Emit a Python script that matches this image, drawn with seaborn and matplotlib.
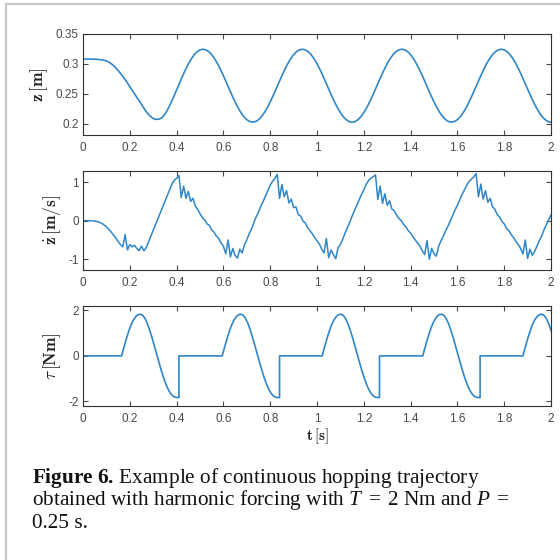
"""Continuous hopping trajectory: z, z-dot and torque vs time."""

import matplotlib

matplotlib.use("Agg")
import matplotlib.pyplot as plt
import numpy as np
import seaborn as sns
from matplotlib.lines import Line2D

sns.set_theme(style="ticks")
plt.rcParams["font.family"] = ["Liberation Sans", "DejaVu Sans"]
plt.rcParams["mathtext.fontset"] = "cm"
plt.rcParams["mathtext.rm"] = "Liberation Serif"
plt.rcParams["mathtext.it"] = "Liberation Serif:italic"
plt.rcParams["mathtext.bf"] = "Liberation Serif:bold"

LINE_COLOR = "#2f86c8"
TICK_COLOR = "#4a4a4a"

X_TICKS = [0, 0.2, 0.4, 0.6, 0.8, 1.0, 1.2, 1.4, 1.6, 1.8, 2.0]
X_TICK_LABELS = ["0", "0.2", "0.4", "0.6", "0.8", "1", "1.2", "1.4", "1.6", "1.8", "2"]

# z [m], sampled every 0.0125 s from 0 to 2 s
Z_VALUES = [
    0.308, 0.308, 0.308, 0.308, 0.3078, 0.3075, 0.307, 0.3062, 0.305, 0.3025,
    0.299, 0.2945, 0.289, 0.283, 0.2765, 0.2695, 0.262, 0.2545, 0.247, 0.2395,
    0.232, 0.2245, 0.2175, 0.2125, 0.2085, 0.2072, 0.2075, 0.2100, 0.2160, 0.2240,
    0.2340, 0.2450, 0.2565, 0.2680, 0.2792, 0.2900, 0.2998, 0.3082, 0.3152, 0.3203,
    0.3234, 0.3245, 0.3235, 0.3204, 0.3154, 0.3086, 0.3003, 0.2907, 0.2802, 0.2691,
    0.2579, 0.2468, 0.2363, 0.2267, 0.2184, 0.2116, 0.2066, 0.2035, 0.2025, 0.2035,
    0.2066, 0.2116, 0.2184, 0.2267, 0.2363, 0.2468, 0.2579, 0.2691, 0.2802, 0.2907,
    0.3003, 0.3086, 0.3154, 0.3204, 0.3235, 0.3245, 0.3235, 0.3204, 0.3154, 0.3086,
    0.3003, 0.2907, 0.2802, 0.2691, 0.2579, 0.2468, 0.2363, 0.2267, 0.2184, 0.2116,
    0.2066, 0.2035, 0.2025, 0.2035, 0.2066, 0.2116, 0.2184, 0.2267, 0.2363, 0.2468,
    0.2579, 0.2691, 0.2802, 0.2907, 0.3003, 0.3086, 0.3154, 0.3204, 0.3235, 0.3245,
    0.3235, 0.3204, 0.3154, 0.3086, 0.3003, 0.2907, 0.2802, 0.2691, 0.2579, 0.2468,
    0.2363, 0.2267, 0.2184, 0.2116, 0.2066, 0.2035, 0.2025, 0.2035, 0.2066, 0.2116,
    0.2184, 0.2267, 0.2363, 0.2468, 0.2579, 0.2691, 0.2802, 0.2907, 0.3003, 0.3086,
    0.3154, 0.3204, 0.3235, 0.3245, 0.3235, 0.3204, 0.3154, 0.3086, 0.3003, 0.2907,
    0.2802, 0.2691, 0.2579, 0.2468, 0.2363, 0.2267, 0.2184, 0.2116, 0.2066, 0.2035,
    0.2025,
]

# z-dot [m/s], sampled every 0.01 s from 0 to 2 s
ZDOT_VALUES = [
    0, 0, 0, 0, -0.005, -0.01, -0.02, -0.04, -0.07, -0.11,
    -0.16, -0.22, -0.29, -0.37, -0.45, -0.54, -0.62, -0.68, -0.36, -0.76,
    -0.62, -0.68, -0.64, -0.72, -0.78, -0.66, -0.78, -0.70, -0.55, -0.40,
    -0.25, -0.10, 0.05, 0.20, 0.35, 0.50, 0.65, 0.80, 0.95, 1.05,
    1.10, 1.17, 0.60, 0.90, 0.58, 0.76, 0.50, 0.58, 0.38, 0.30,
    0.18, 0.08, 0.02, -0.08, -0.12, -0.24, -0.30, -0.40, -0.46, -0.58,
    -0.66, -0.86, -0.50, -0.94, -0.72, -0.90, -0.97, -0.74, -0.84, -0.62,
    -0.50, -0.34, -0.22, -0.06, 0.10, 0.22, 0.38, 0.50, 0.64, 0.78,
    0.92, 1.02, 1.10, 1.20, 0.58, 0.94, 0.62, 0.78, 0.46, 0.56,
    0.34, 0.36, 0.16, 0.12, -0.01, -0.06, -0.18, -0.26, -0.34, -0.44,
    -0.52, -0.60, -0.74, -0.84, -0.46, -0.96, -0.76, -0.88, -0.99, -0.70,
    -0.62, -0.48, -0.32, -0.18, -0.04, 0.12, 0.26, 0.40, 0.54, 0.68,
    0.80, 0.94, 1.04, 1.10, 1.14, 1.19, 0.55, 0.90, 0.45, 0.70,
    0.40, 0.52, 0.30, 0.26, 0.14, 0.06, 0.00, -0.10, -0.16, -0.26,
    -0.32, -0.42, -0.50, -0.58, -0.66, -0.78, -0.88, -0.52, -1.00, -0.72,
    -0.86, -0.92, -0.66, -0.52, -0.40, -0.26, -0.14, 0.00, 0.14, 0.28,
    0.40, 0.54, 0.68, 0.80, 0.92, 1.02, 1.08, 1.14, 1.22, 0.62,
    0.95, 0.56, 0.78, 0.48, 0.58, 0.36, 0.30, 0.16, 0.10, -0.02,
    -0.08, -0.20, -0.26, -0.36, -0.44, -0.54, -0.62, -0.72, -0.86, -0.50,
    -0.98, -0.74, -0.90, -0.80, -0.66, -0.52, -0.40, -0.24, -0.10, 0.02,
    0.15,
]

# torque pushes: start time of each push and the push shape every 0.01 s
TAU_ONSETS = [0.165, 0.595, 1.022, 1.452, 1.880]
TAU_PUSH = [
    0.0, 0.38, 0.74, 1.07, 1.35, 1.57, 1.72, 1.81, 1.83, 1.78,
    1.64, 1.42, 1.13, 0.80, 0.44, 0.07, -0.30, -0.65, -0.98, -1.26,
    -1.49, -1.66, -1.77, -1.82, -1.83,
]
TAU_CUTOFF = 0.245  # torque drops back to zero after this long


def build_torque():
    t, tau = [0.0], [0.0]
    for onset in TAU_ONSETS:
        for k, v in enumerate(TAU_PUSH):
            t.append(onset + 0.01 * k)
            tau.append(v)
        t += [onset + TAU_CUTOFF, onset + TAU_CUTOFF]
        tau += [TAU_PUSH[-1], 0.0]
    return np.array(t), np.array(tau)


def style_axis(ax, ylim, yticks, yticklabels, ylabel, label_x):
    ax.set_xlim(0, 2)
    ax.set_ylim(*ylim)
    ax.set_xticks(X_TICKS)
    ax.set_xticklabels(X_TICK_LABELS)
    ax.set_yticks(yticks)
    ax.set_yticklabels(yticklabels)
    ax.tick_params(direction="in", top=True, right=True, length=3.5, width=0.8,
                   labelsize=8.5, colors=TICK_COLOR)
    ax.tick_params(axis="x", pad=5)
    ax.tick_params(axis="y", pad=3)
    for spine in ax.spines.values():
        spine.set_visible(True)
        spine.set_color("#333333")
        spine.set_linewidth(0.8)
    ax.set_ylabel(ylabel, fontsize=12.5, color="#222222", math_fontfamily="cm")
    ax.yaxis.set_label_coords(label_x, 0.5)
    ax.set_xlabel("")


fig = plt.figure(figsize=(5.6, 5.6), dpi=100)
fig.patch.set_facecolor("white")

left, width = 83 / 560, 468 / 560
ax1 = fig.add_axes([left, 1 - 135 / 560, width, 101 / 560])
ax2 = fig.add_axes([left, 1 - 270 / 560, width, 99 / 560])
ax3 = fig.add_axes([left, 1 - 406 / 560, width, 100 / 560])

t_z = np.linspace(0, 2, len(Z_VALUES))
t_zdot = np.linspace(0, 2, len(ZDOT_VALUES))
t_tau, tau = build_torque()

sns.lineplot(x=t_z, y=Z_VALUES, ax=ax1, color=LINE_COLOR, linewidth=1.2,
             estimator=None, sort=False)
sns.lineplot(x=t_zdot, y=ZDOT_VALUES, ax=ax2, color=LINE_COLOR, linewidth=1.1,
             estimator=None, sort=False)
sns.lineplot(x=t_tau, y=tau, ax=ax3, color=LINE_COLOR, linewidth=1.2,
             estimator=None, sort=False)

style_axis(ax1, (0.181, 0.35), [0.2, 0.25, 0.3, 0.35], ["0.2", "0.25", "0.3", "0.35"],
           r"$\mathbf{z}\,[\mathbf{m}]$", -0.07)
style_axis(ax2, (-1.28, 1.29), [-1, 0, 1], ["-1", "0", "1"],
           r"$\dot{\mathbf{z}}\,[\mathbf{m/s}]$", -0.043)
style_axis(ax3, (-2.2, 2.19), [-2, 0, 2], ["-2", "0", "2"],
           r"$\tau\,[\mathbf{Nm}]$", -0.043)
ax3.set_xlabel(r"$\mathbf{t}\,[\mathbf{s}]$", fontsize=11, color="#222222",
               math_fontfamily="cm", labelpad=1)

# caption
cap_kw = dict(fontsize=15.3, family="Liberation Serif", math_fontfamily="custom",
              color="#111111", ha="left", va="center")
fig.text(32 / 560, 1 - 478 / 560,
         r"$\mathbf{Figure\ 6.}\,$Example of continuous hopping trajectory", **cap_kw)
fig.text(32 / 560, 1 - 500 / 560,
         r"obtained with harmonic forcing with $T\;=\;$2 Nm and $P\;=$", **cap_kw)
fig.text(32 / 560, 1 - 523 / 560, "0.25 s.", **cap_kw)

# frame lines of the figure box
fig.add_artist(Line2D([6 / 560, 6 / 560], [0, 1 - 4 / 560], transform=fig.transFigure,
                      color="#c8c8c8", linewidth=1.6))
fig.add_artist(Line2D([6 / 560, 1], [1 - 4 / 560, 1 - 4 / 560], transform=fig.transFigure,
                      color="#c8c8c8", linewidth=1.6))

fig.savefig("out.png", dpi=100)
plt.close(fig)
